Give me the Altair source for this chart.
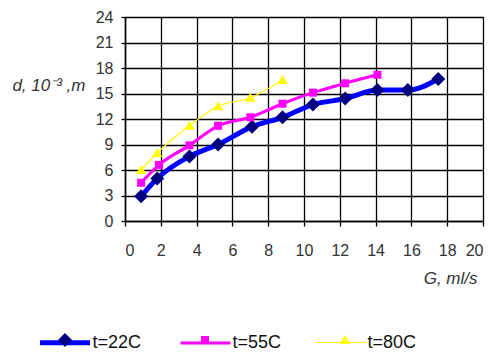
import altair as alt
import pandas as pd

# ---- data ----
series_names = ["t=22C", "t=55C", "t=80C"]

g_22 = [0.9, 1.8, 3.6, 5.2, 7.1, 8.8, 10.5, 12.3, 14.1, 15.8, 17.5]
d_22 = [2.9, 5.0, 7.6, 9.0, 11.1, 12.2, 13.7, 14.4, 15.4, 15.4, 16.7]

g_55 = [0.9, 1.9, 3.6, 5.2, 7.0, 8.8, 10.5, 12.3, 14.1]
d_55 = [4.5, 6.6, 8.9, 11.2, 12.2, 13.8, 15.1, 16.2, 17.2]

g_80 = [0.9, 1.8, 3.6, 5.2, 7.0, 8.8]
d_80 = [6.0, 8.0, 11.2, 13.5, 14.5, 16.6]

x_ticks = list(range(0, 21, 2))
y_ticks = list(range(0, 25, 3))

rows = []
for name, gs, ds in zip(series_names, [g_22, g_55, g_80], [d_22, d_55, d_80]):
    for i, (g, d) in enumerate(zip(gs, ds)):
        rows.append({"series": name, "marker": name, "G": g, "d": d, "i": i})
df = pd.DataFrame(rows)

line_colors = ["#0000FF", "#FF00FF", "#FFFF00"]
marker_colors = ["#000080", "#FF00FF", "#FFFF00"]
line_widths = [5, 1.2, 1.2]
marker_paths = [
    "M-0.28,0L0,-0.28L0.28,0L0,0.28Z",
    "M-0.16,-0.16L0.16,-0.16L0.16,0.16L-0.16,0.16Z",
    "M0,-0.2L0.21,0.16L-0.21,0.16Z",
]

FONT = "Liberation Sans"
TXT = "#333333"

x_enc = alt.X(
    "G:Q",
    scale=alt.Scale(domain=[0, 20], nice=False),
    axis=alt.Axis(
        values=x_ticks, tickCount=len(x_ticks), labelOverlap=False,
        title="G, ml/s", grid=True, gridColor="#000000",
        gridWidth=1.3, domainColor="#000000", domainWidth=1.5,
        tickColor="#000000", tickSize=5, tickWidth=1.3,
        labelFont=FONT, labelFontSize=16, labelColor=TXT, labelPadding=16,
        titleFont=FONT, titleFontSize=17, titleFontStyle="italic",
        titleFontWeight="normal", titleColor=TXT, titleAlign="right",
        titleBaseline="middle", titleX=352, titleY=57,
    ),
)
y_enc = alt.Y(
    "d:Q",
    scale=alt.Scale(domain=[0, 24], nice=False),
    axis=alt.Axis(
        values=y_ticks, tickCount=len(y_ticks), labelOverlap=False,
        title="d, 10⁻³ ,m", grid=True, gridColor="#000000",
        gridWidth=1.3, domainColor="#000000", domainWidth=1.5,
        tickColor="#000000", tickSize=4, tickWidth=1.3,
        labelFont=FONT, labelFontSize=16, labelColor=TXT, labelPadding=8,
        titleFont=FONT, titleFontSize=17, titleFontStyle="italic",
        titleFontWeight="normal", titleColor=TXT, titleAngle=0,
        titleAlign="right", titleBaseline="middle", titleX=-40, titleY=68,
    ),
)

legend_base = dict(
    orient="none", legendY=298, direction="horizontal",
    title=None, symbolSize=2500, labelFont=FONT, labelFontSize=18,
    labelOffset=0, padding=0, labelColor="#111111",
)

lines = alt.Chart(df).mark_line(interpolate="monotone").encode(
    x=x_enc,
    y=y_enc,
    order="i:O",
    stroke=alt.Stroke(
        "series:N",
        scale=alt.Scale(domain=series_names, range=line_colors),
        legend=alt.Legend(symbolType="stroke", columnPadding=32, legendX=-87.5, **legend_base),
    ),
    strokeWidth=alt.StrokeWidth(
        "series:N",
        scale=alt.Scale(domain=series_names, range=line_widths),
        legend=alt.Legend(symbolType="stroke", columnPadding=32, legendX=-87.5, **legend_base),
    ),
)

# marker legend: label-less, spaced so that its symbols sit on the line legend's
points = alt.Chart(df).mark_point(filled=True, size=2500, opacity=1, strokeWidth=0).encode(
    x="G:Q",
    y="d:Q",
    fill=alt.Fill(
        "marker:N",
        scale=alt.Scale(range=marker_colors),
        legend=alt.Legend(labelExpr="''", symbolStrokeWidth=0, columnPadding=90, legendX=-85, **legend_base),
    ),
    shape=alt.Shape(
        "marker:N",
        scale=alt.Scale(range=marker_paths),
        legend=alt.Legend(labelExpr="''", symbolStrokeWidth=0, columnPadding=90, legendX=-85, **legend_base),
    ),
)

chart = alt.layer(lines, points).properties(
    width=358,
    height=204,
    autosize=alt.AutoSizeParams(type="none"),
    padding={"left": 117, "top": 9, "right": 2, "bottom": 132},
    background="#ffffff",
).configure_view(stroke="#999999", strokeWidth=1)

chart.save("out.html", embed_options={"renderer": "svg", "actions": False})
